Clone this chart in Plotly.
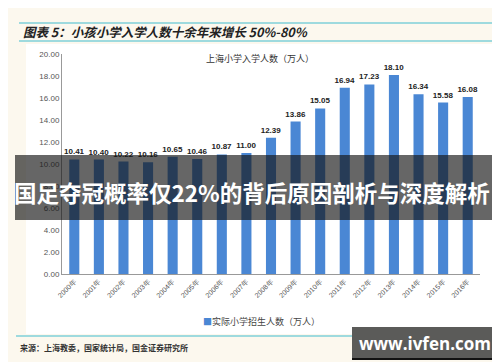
import plotly.graph_objects as go

years = ["2000年", "2001年", "2002年", "2003年", "2004年", "2005年", "2006年", "2007年", "2008年",
         "2009年", "2010年", "2011年", "2012年", "2013年", "2014年", "2015年", "2016年"]
enrollment = [10.41, 10.40, 10.22, 10.16, 10.65, 10.46, 10.87, 11.00, 12.39,
              13.86, 15.05, 16.94, 17.23, 18.10, 16.34, 15.58, 16.08]
y_ticks = [0, 2, 4, 6, 8, 10, 12, 14, 16, 18, 20]

W, H = 500, 362
L, R, T, B = 54, 28, 46, 96
PW, PH = W - L - R, H - T - B

def px(x):
    return (x - L) / PW

def py(y):
    return (H - B - y) / PH

CJK = "Noto Sans CJK SC"

fig = go.Figure()
fig.add_trace(go.Bar(
    x=years, y=enrollment,
    marker=dict(color="#4a87d4", line=dict(width=0)),
    text=[f"{v:.2f}" for v in enrollment],
    textposition="outside",
    constraintext="none",
    textfont=dict(family="Liberation Sans", size=8, color="#222222"),
    texttemplate="<b>%{text}</b>",
    cliponaxis=False,
    showlegend=False,
))

shapes = [
    dict(type="rect", xref="paper", yref="paper", x0=px(18), x1=px(487), y0=py(326), y1=py(36),
         fillcolor="white", line=dict(width=0), layer="below"),
    dict(type="line", xref="paper", yref="paper", x0=px(11), x1=px(496), y0=py(15), y1=py(15),
         line=dict(color="#7fd0d8", width=1.5), layer="above"),
    dict(type="line", xref="paper", yref="paper", x0=px(11), x1=px(496), y0=py(33), y1=py(33),
         line=dict(color="#7fd0d8", width=1.5), layer="above"),
    dict(type="line", xref="paper", yref="paper", x0=px(8), x1=px(496), y0=py(328), y1=py(328),
         line=dict(color="#7fd0d8", width=1.5), layer="above"),
    dict(type="rect", xref="paper", yref="paper", x0=px(7), x1=px(493), y0=py(212), y1=py(147),
         fillcolor="rgba(20,20,20,0.65)", line=dict(width=0), layer="above"),
    dict(type="rect", xref="paper", yref="paper", x0=px(344), x1=px(491), y0=py(352), y1=py(319),
         fillcolor="#5b5b59", line=dict(width=0), layer="above"),
    dict(type="line", xref="paper", yref="paper", x0=px(344), x1=px(491), y0=py(351), y1=py(351),
         line=dict(color="#111111", width=2), layer="above"),
]

annotations = [
    dict(text="<b><i>图表 5：小孩小学入学人数十余年来增长 50%-80%</i></b>", x=px(13), y=py(24),
         xref="paper", yref="paper", xanchor="left", yanchor="middle", showarrow=False,
         font=dict(family=CJK, size=12.5, color="#222222")),
    dict(text="上海小学入学人数（万人）", x=px(252), y=py(50),
         xref="paper", yref="paper", xanchor="center", yanchor="middle", showarrow=False,
         font=dict(family=CJK, size=9, color="#333333")),
    dict(text="<span style='color:#4a87d4'>■</span>实际小学招生人数（万人）", x=px(253), y=py(313),
         xref="paper", yref="paper", xanchor="center", yanchor="middle", showarrow=False,
         font=dict(family=CJK, size=9, color="#444444")),
    dict(text="<b>来源：上海教委，国家统计局，国金证券研究所</b>", x=px(10), y=py(339),
         xref="paper", yref="paper", xanchor="left", yanchor="middle", showarrow=False,
         font=dict(family=CJK, size=8, color="#333333")),
    dict(text="<b>国足夺冠概率仅22%的背后原因剖析与深度解析</b>", x=px(244), y=py(184),
         xref="paper", yref="paper", xanchor="center", yanchor="middle", showarrow=False,
         font=dict(family=CJK, size=22.5, color="white")),
    dict(text="<b>www.ivfen.com</b>", x=px(417), y=py(335),
         xref="paper", yref="paper", xanchor="center", yanchor="middle", showarrow=False,
         font=dict(family="Open Sans", size=17, color="white")),
]

fig.update_layout(
    width=W, height=H,
    margin=dict(l=L, r=R, t=T, b=B),
    paper_bgcolor="#fcf8ee",
    plot_bgcolor="rgba(0,0,0,0)",
    bargap=0.59,
    shapes=shapes,
    annotations=annotations,
    xaxis=dict(
        type="category",
        showgrid=False, showline=True, linecolor="#999999", linewidth=1,
        ticks="", tickangle=-45,
        tickfont=dict(family="Liberation Sans", size=7, color="#555555"),
    ),
    yaxis=dict(
        range=[0, 20], tickvals=y_ticks, tickformat=".2f",
        showgrid=False, showline=True, linecolor="#999999", linewidth=1,
        ticks="", zeroline=False,
        tickfont=dict(family="Liberation Sans", size=8, color="#555555"),
    ),
)

fig.write_html("out.html")
